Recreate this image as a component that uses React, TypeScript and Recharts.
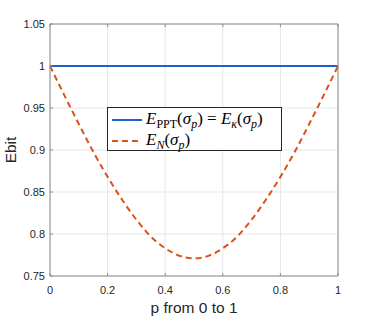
import React from 'react';
import { LineChart, Line, XAxis, YAxis, CartesianGrid, Legend } from 'recharts';

const pValues = [0, 0.05, 0.1, 0.15, 0.2, 0.25, 0.3, 0.35, 0.4, 0.45, 0.5, 0.55, 0.6, 0.65, 0.7, 0.75, 0.8, 0.85, 0.9, 0.95, 1];
const pptValues = [1, 1, 1, 1, 1, 1, 1, 1, 1, 1, 1, 1, 1, 1, 1, 1, 1, 1, 1, 1, 1];
const enValues = [1.0, 0.965, 0.931, 0.898, 0.868, 0.841, 0.817, 0.797, 0.783, 0.774, 0.771, 0.774, 0.783, 0.797, 0.817, 0.841, 0.868, 0.898, 0.931, 0.965, 1.0];
const xTicks = [0, 0.2, 0.4, 0.6, 0.8, 1];
const yTicks = [0.75, 0.8, 0.85, 0.9, 0.95, 1, 1.05];

const data = pValues.map((p, i) => ({ p, ppt: pptValues[i], en: enValues[i] }));

const BLUE = '#1f5fd0';
const RED = '#d95319';
const AXIS = '#8c8c8c';
const TEXT = '#262626';
const SANS = '"Liberation Sans", Arial, sans-serif';
const SERIF = '"Liberation Serif", "Times New Roman", serif';

const Sub: React.FC<{ children: React.ReactNode; italic?: boolean }> = ({ children, italic }) => (
  <span style={{ fontSize: 12, position: 'relative', top: 4, fontStyle: italic ? 'italic' : 'normal' }}>{children}</span>
);

const BottomTick = (props: any) => {
  const { x, y, payload } = props;
  return (
    <g>
      <line x1={x} x2={x} y1={y} y2={y - 3} stroke={AXIS} />
      <text x={x} y={y + 18} textAnchor="middle" fontSize={11} fontFamily={SANS} fill={TEXT}>
        {String(payload.value)}
      </text>
    </g>
  );
};

const LeftTick = (props: any) => {
  const { x, y, payload } = props;
  return (
    <g>
      <line x1={x} x2={x + 3} y1={y} y2={y} stroke={AXIS} />
      <text x={x - 5} y={y + 4} textAnchor="end" fontSize={11} fontFamily={SANS} fill={TEXT}>
        {String(payload.value)}
      </text>
    </g>
  );
};

const TopTick = (props: any) => {
  const { x, y } = props;
  return <line x1={x} x2={x} y1={y} y2={y + 3} stroke={AXIS} />;
};

const RightTick = (props: any) => {
  const { x, y } = props;
  return <line x1={x} x2={x - 3} y1={y} y2={y} stroke={AXIS} />;
};

const LegendBox = () => (
  <div
    style={{
      width: 173,
      height: 41,
      border: '1px solid #262626',
      background: '#fff',
      fontFamily: SERIF,
      fontSize: 17,
      color: '#000',
      lineHeight: '20px',
      paddingTop: 1,
      boxSizing: 'content-box',
      overflow: 'visible',
    }}
  >
    <div style={{ display: 'flex', alignItems: 'center', height: 21 }}>
      <svg width={34} height={6} style={{ marginLeft: 3, marginRight: 1, flexShrink: 0 }}>
        <line x1={1} x2={31} y1={3} y2={3} stroke={BLUE} strokeWidth={2} />
      </svg>
      <span style={{ whiteSpace: 'nowrap' }}>
        <i>E</i>
        <Sub>PPT</Sub>(<i>σ</i>
        <Sub italic>p</Sub>)&nbsp;=&nbsp;<i>E</i>
        <Sub italic>κ</Sub>(<i>σ</i>
        <Sub italic>p</Sub>)
      </span>
    </div>
    <div style={{ display: 'flex', alignItems: 'center', height: 21 }}>
      <svg width={34} height={6} style={{ marginLeft: 3, marginRight: 1, flexShrink: 0 }}>
        <line x1={1} x2={31} y1={3} y2={3} stroke={RED} strokeWidth={2} strokeDasharray="6 4" />
      </svg>
      <span style={{ whiteSpace: 'nowrap' }}>
        <i>E</i>
        <Sub italic>N</Sub>(<i>σ</i>
        <Sub italic>p</Sub>)
      </span>
    </div>
  </div>
);

const App: React.FC = () => {
  return (
    <div style={{ position: 'absolute', left: 0, top: 0, width: 374, height: 317, background: '#fff' }}>
      <LineChart width={374} height={317} data={data} margin={{ top: 0, right: 0, bottom: 0, left: 0 }}>
        <CartesianGrid xAxisId="b" yAxisId="l" stroke="#e6e6e6" strokeWidth={1} />
        <XAxis
          xAxisId="b"
          dataKey="p"
          type="number"
          domain={[0, 1]}
          ticks={xTicks}
          orientation="bottom"
          height={41}
          tickSize={0}
          tickMargin={0}
          tickLine={false}
          axisLine={{ stroke: AXIS }}
          tick={BottomTick}
          interval={0}
          label={{
            content: () => (
              <text x={194} y={313} textAnchor="middle" fontSize={15.5} fontFamily={SANS} fill={TEXT}>
                p from 0 to 1
              </text>
            ),
          }}
        />
        <XAxis
          xAxisId="t"
          dataKey="p"
          type="number"
          domain={[0, 1]}
          ticks={xTicks}
          orientation="top"
          height={24}
          tickSize={0}
          tickMargin={0}
          tickLine={false}
          axisLine={{ stroke: AXIS }}
          tick={TopTick}
          interval={0}
        />
        <YAxis
          yAxisId="l"
          type="number"
          domain={[0.75, 1.05]}
          ticks={yTicks}
          orientation="left"
          width={50}
          tickSize={0}
          tickMargin={0}
          tickLine={false}
          axisLine={{ stroke: AXIS }}
          tick={LeftTick}
          interval={0}
          label={{
            content: () => (
              <text
                x={16}
                y={150}
                textAnchor="middle"
                fontSize={15.5}
                fontFamily={SANS}
                fill={TEXT}
                transform="rotate(-90 16 150)"
              >
                Ebit
              </text>
            ),
          }}
        />
        <YAxis
          yAxisId="r"
          type="number"
          domain={[0.75, 1.05]}
          ticks={yTicks}
          orientation="right"
          width={36}
          tickSize={0}
          tickMargin={0}
          tickLine={false}
          axisLine={{ stroke: AXIS }}
          tick={RightTick}
          interval={0}
        />
        <Legend
          layout="vertical"
          align="center"
          verticalAlign="middle"
          wrapperStyle={{ left: 107, top: 107, width: 175 }}
          content={() => <LegendBox />}
        />
        <Line
          xAxisId="b"
          yAxisId="l"
          dataKey="ppt"
          name="E_PPT"
          stroke={BLUE}
          strokeWidth={2.2}
          dot={false}
          type="linear"
          isAnimationActive={false}
        />
        <Line
          xAxisId="b"
          yAxisId="l"
          dataKey="en"
          name="E_N"
          stroke={RED}
          strokeWidth={2}
          strokeDasharray="6 4"
          dot={false}
          type="monotone"
          isAnimationActive={false}
        />
      </LineChart>
    </div>
  );
};

export default App;
